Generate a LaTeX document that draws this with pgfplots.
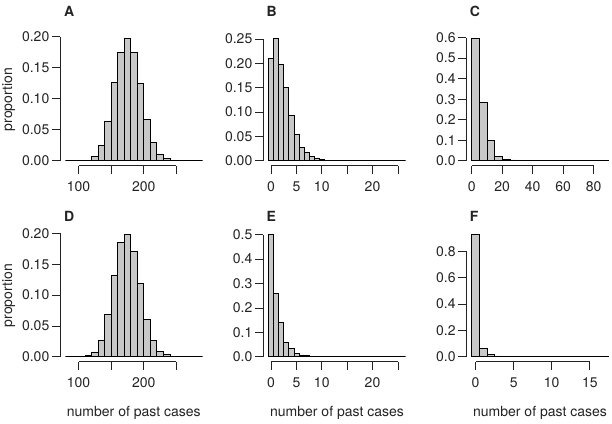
\documentclass[border=0pt]{standalone}
\usepackage{fontspec}
\setmainfont{TeX Gyre Heros}
\usepackage{pgfplots}
\pgfplotsset{compat=1.18}
\definecolor{barfill}{RGB}{200,200,200}
\definecolor{axcol}{RGB}{35,35,35}
\pgfplotsset{
 rax/.style={
  scale only axis, width=148bp, height=132bp, anchor=south west,
  axis x line*=bottom, axis y line*=left, axis line style={draw=none},
  tick align=outside, major tick length=8bp,
  tick style={axcol, line width=0.75bp},
  tick label style={font=\fontsize{14bp}{16bp}\selectfont, text=axcol},
  xticklabel style={anchor=base, yshift=-18bp},
  yticklabel style={anchor=east, inner sep=0pt, xshift=-2.5bp},
  clip=false,
 },
 hbar/.style={ybar, bar width=#1, fill=barfill, draw=black, line width=0.7bp},
}
\newcommand{\spines}[4]{%
 \draw[axcol, line width=0.75bp] ({axis cs:#1,0}|-{rel axis cs:0,0}) -- ({axis cs:#2,0}|-{rel axis cs:0,0});
 \draw[axcol, line width=0.75bp] ({rel axis cs:0,0}|-{axis cs:0,#3}) -- ({rel axis cs:0,0}|-{axis cs:0,#4});
}
\begin{document}
\begin{tikzpicture}
\useasboundingbox (0,0) rectangle (612bp,424bp);
% A
\begin{axis}[rax, at={(60bp,258.3bp)}, xmin=71.6, xmax=298.4, ymin=-0.00788, ymax=0.20488,
 xtick={100,150,200,250}, xticklabels={100,,200,},
 ytick={0,0.05,0.1,0.15,0.2}, yticklabels={0.00,0.05,0.10,0.15,0.20}]
\addplot[hbar=10] coordinates {(85,0) (95,0) (105,0.0003) (115,0.001) (125,0.007) (135,0.025) (145,0.063) (155,0.127) (165,0.175) (175,0.197) (185,0.175) (195,0.125) (205,0.067) (215,0.029) (225,0.010) (235,0.004) (245,0.001) (255,0.0003) (265,0) (275,0) (285,0)};
\spines{100}{250}{0}{0.2}
\end{axis}
% B
\begin{axis}[rax, at={(263bp,258.3bp)}, xmin=-1.58, xmax=27.58, ymin=-0.01004, ymax=0.26104,
 xtick={0,5,10,15,20,25}, xticklabels={0,5,10,,20,},
 ytick={0,0.05,0.1,0.15,0.2,0.25}, yticklabels={0.00,0.05,0.10,0.15,0.20,0.25}]
\addplot[hbar=1] coordinates {(0,0.210) (1,0.251) (2,0.198) (3,0.151) (4,0.093) (5,0.054) (6,0.027) (7,0.018) (8,0.0096) (9,0.006) (10,0.0034) (11,0.0015) (12,0.0008) (13,0.0004) (14,0.0002) (15,0.0001) (16,0) (17,0) (18,0) (19,0) (20,0) (21,0) (22,0) (23,0) (24,0) (25,0) (26,0)};
\spines{0}{25}{0}{0.25}
\end{axis}
% C
\begin{axis}[rax, at={(466.3bp,258.3bp)}, xmin=-3.6, xmax=93.6, ymin=-0.0238, ymax=0.6188,
 xtick={0,20,40,60,80}, xticklabels={0,20,40,60,80},
 ytick={0,0.1,0.2,0.3,0.4,0.5,0.6}, yticklabels={0.0,0.1,0.2,0.3,0.4,0.5,0.6}]
\addplot[hbar=5] coordinates {(2.5,0.595) (7.5,0.284) (12.5,0.0997) (17.5,0.021) (22.5,0.008) (27.5,0.004) (32.5,0.002) (37.5,0.001) (42.5,0.0005) (47.5,0.0002) (52.5,0) (57.5,0) (62.5,0) (67.5,0) (72.5,0) (77.5,0) (82.5,0) (87.5,0)};
\spines{0}{80}{0}{0.6}
\end{axis}
% D
\begin{axis}[rax, at={(60bp,62.3bp)}, xmin=71.6, xmax=298.4, ymin=-0.00792, ymax=0.20592,
 xtick={100,150,200,250}, xticklabels={100,,200,},
 ytick={0,0.05,0.1,0.15,0.2}, yticklabels={0.00,0.05,0.10,0.15,0.20}]
\addplot[hbar=10] coordinates {(85,0) (95,0) (105,0.0003) (115,0.0016) (125,0.008) (135,0.026) (145,0.068) (155,0.132) (165,0.185) (175,0.198) (185,0.171) (195,0.119) (205,0.060) (215,0.026) (225,0.0086) (235,0.0032) (245,0.001) (255,0.0003) (265,0) (275,0) (285,0)};
\spines{100}{250}{0}{0.2}
\end{axis}
% E
\begin{axis}[rax, at={(263bp,62.3bp)}, xmin=-1.58, xmax=27.58, ymin=-0.02, ymax=0.52,
 xtick={0,5,10,15,20,25}, xticklabels={0,5,10,,20,},
 ytick={0,0.1,0.2,0.3,0.4,0.5}, yticklabels={0.0,0.1,0.2,0.3,0.4,0.5}]
\addplot[hbar=1] coordinates {(0,0.5) (1,0.260) (2,0.139) (3,0.0586) (4,0.035) (5,0.015) (6,0.008) (7,0.004) (8,0.002) (9,0.001) (10,0.0005) (11,0.0002) (12,0) (13,0) (14,0) (15,0) (16,0) (17,0) (18,0) (19,0) (20,0) (21,0) (22,0) (23,0) (24,0) (25,0) (26,0)};
\spines{0}{25}{0}{0.5}
\end{axis}
% F
\begin{axis}[rax, at={(466.3bp,62.3bp)}, xmin=-1.22, xmax=18.22, ymin=-0.03704, ymax=0.96304,
 xtick={0,5,10,15}, xticklabels={0,5,10,15},
 ytick={0,0.2,0.4,0.6,0.8}, yticklabels={0.0,0.2,0.4,0.6,0.8}]
\addplot[hbar=1] coordinates {(0,0.926) (1,0.063) (2,0.018) (3,0.007) (4,0.003) (5,0.001) (6,0.0004) (7,0) (8,0) (9,0) (10,0) (11,0) (12,0) (13,0) (14,0) (15,0) (16,0) (17,0)};
\spines{0}{15}{0}{0.8}
\end{axis}
% titles and labels
\begin{scope}[every node/.style={font=\fontsize{14bp}{16bp}\selectfont, text=axcol}]
\node[anchor=base west, font=\fontsize{14bp}{16bp}\selectfont\bfseries] at (60.5bp,407.5bp) {A};
\node[anchor=base west, font=\fontsize{14bp}{16bp}\selectfont\bfseries] at (263bp,407.5bp) {B};
\node[anchor=base west, font=\fontsize{14bp}{16bp}\selectfont\bfseries] at (466.3bp,407.5bp) {C};
\node[anchor=base west, font=\fontsize{14bp}{16bp}\selectfont\bfseries] at (60.5bp,202.5bp) {D};
\node[anchor=base west, font=\fontsize{14bp}{16bp}\selectfont\bfseries] at (263bp,202.5bp) {E};
\node[anchor=base west, font=\fontsize{14bp}{16bp}\selectfont\bfseries] at (466.3bp,202.5bp) {F};
\node[rotate=90, anchor=base] at (12bp,324.4bp) {proportion};
\node[rotate=90, anchor=base] at (12bp,128.5bp) {proportion};
\node[anchor=base] at (133.8bp,7.5bp) {number of past cases};
\node[anchor=base] at (337bp,7.5bp) {number of past cases};
\node[anchor=base] at (540bp,7.5bp) {number of past cases};
\end{scope}
\end{tikzpicture}
\end{document}
